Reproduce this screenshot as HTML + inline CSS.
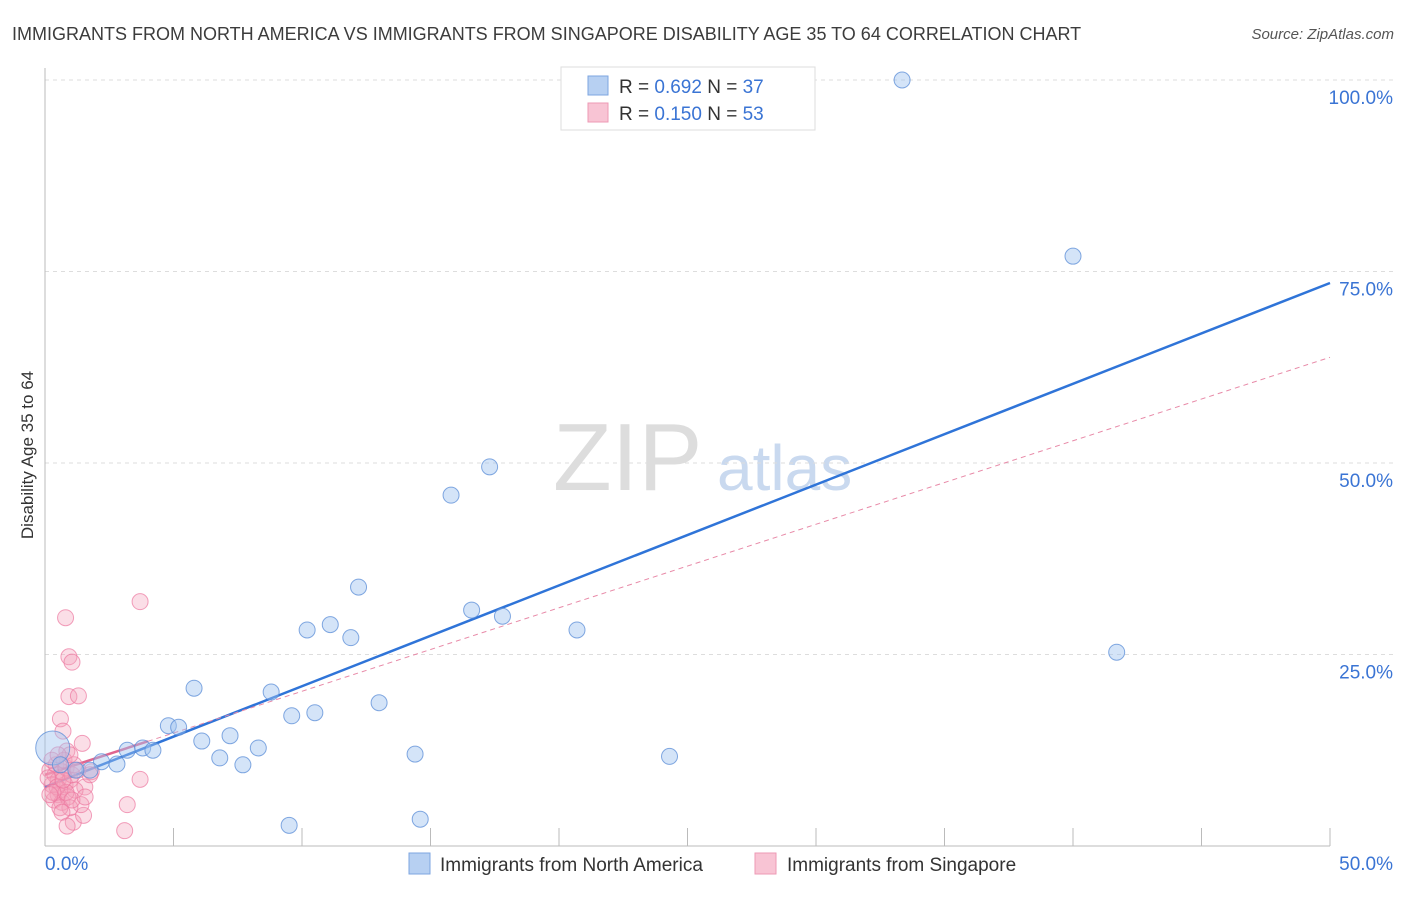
<!DOCTYPE html>
<html><head><meta charset="utf-8"><style>
body{margin:0;background:#fff;font-family:"Liberation Sans",sans-serif;}
svg text{font-family:"Liberation Sans",sans-serif;}
</style></head><body>
<svg id="c" width="1406" height="892">
<text x="12" y="40" font-size="18" fill="#3c3c3c">IMMIGRANTS FROM NORTH AMERICA VS IMMIGRANTS FROM SINGAPORE DISABILITY AGE 35 TO 64 CORRELATION CHART</text>
<text x="1394" y="39" font-size="15" fill="#555" font-style="italic" text-anchor="end">Source: ZipAtlas.com</text>
<text transform="translate(33,455) rotate(-90)" font-size="17" fill="#333" text-anchor="middle">Disability Age 35 to 64</text>
<g><text x="553" y="490" font-size="96" fill="#ddd" font-family="Liberation Serif,serif">ZIP</text><text x="717" y="490" font-size="64" fill="#c9d9ef">atlas</text></g>
<g id="grid"></g><g id="axes"></g><g id="lines"></g><g id="pts"></g>
<g>
<rect x="561" y="67" width="254" height="63" fill="#fff" stroke="#ddd"/>
<rect x="588" y="76" width="20" height="19" fill="#b7d0f2" stroke="#7ea6e0"/>
<rect x="588" y="103" width="20" height="19" fill="#f8c4d4" stroke="#ee9ab5"/>
<text x="619" y="93" font-size="19" fill="#333">R = <tspan fill="#3a74d4">0.692</tspan>   N = <tspan fill="#3a74d4">37</tspan></text>
<text x="619" y="120" font-size="19" fill="#333">R = <tspan fill="#3a74d4">0.150</tspan>   N = <tspan fill="#3a74d4">53</tspan></text>
</g>
<g>
<rect x="409" y="853" width="21" height="21" fill="#b7d0f2" stroke="#7ea6e0"/>
<text x="440" y="871" font-size="19" fill="#333">Immigrants from North America</text>
<rect x="755" y="853" width="21" height="21" fill="#f8c4d4" stroke="#ee9ab5"/>
<text x="787" y="871" font-size="19" fill="#333">Immigrants from Singapore</text>
</g>
</svg>
<script>
const xTicks=[0,5,10,15,20,25,30,35,40,45,50];
const yTicks=[25,50,75,100];
const yTickLabels=["25.0%","50.0%","75.0%","100.0%"];
const blueX=[33.35,40.0,17.3,15.8,12.2,16.6,17.8,20.7,10.2,11.1,11.9,41.7,5.8,8.8,13.0,10.5,9.6,4.8,5.2,7.2,6.1,8.3,3.2,3.8,4.2,14.4,24.3,6.8,7.7,2.2,2.8,1.75,1.2,14.6,9.5,0.3,0.6];
const blueY=[100,77.0,49.5,45.8,33.8,30.8,30.0,28.2,28.2,28.9,27.2,25.3,20.6,20.1,18.7,17.4,17.0,15.7,15.5,14.4,13.7,12.8,12.5,12.8,12.5,12.0,11.7,11.5,10.6,11.0,10.7,9.9,9.9,3.5,2.7,12.8,10.6];
const pinkX=[3.7,0.8,0.93,1.05,0.93,1.3,0.6,0.7,1.45,0.85,3.7,3.2,3.1,1.1,1.5,1.4,1.55,1.8,0.19,0.39,0.51,0.27,0.58,0.78,0.97,0.66,0.43,0.82,1.05,1.17,0.51,0.35,0.66,0.89,0.97,0.58,0.12,0.27,0.74,1.13,1.28,0.47,0.82,0.31,0.70,0.97,0.51,0.19,1.05,0.66,0.86,1.56,1.75];
const pinkY=[31.9,29.8,24.7,24.0,19.5,19.6,16.6,15.0,13.4,12.4,8.7,5.4,2.0,3.1,4.0,5.4,7.7,9.7,9.9,9.3,8.6,8.0,7.3,8.0,8.6,9.7,10.6,10.2,9.3,7.3,6.7,6.0,5.7,6.4,5.0,5.0,8.9,11.2,11.2,10.6,9.9,7.7,7.0,7.0,8.6,11.9,11.9,6.7,6.0,4.4,2.6,6.4,9.3];
const blueTrend=[7.7,73.5];
const pinkTrend=[9.3,63.8];
const NS="http://www.w3.org/2000/svg";
const X=v=>45+v/50*1285, Y=v=>846-v/25*191.5;
function mk(t,a,p){const e=document.createElementNS(NS,t);for(const k in a)e.setAttribute(k,a[k]);document.getElementById(p).appendChild(e);return e;}
yTicks.forEach((v,i)=>{
 const l=mk('line',{x1:45,x2:1393,y1:Y(v),y2:Y(v),stroke:'#ddd','stroke-dasharray':'4,4'},'grid');
 
 
 const t=mk('text',{x:1393,y:Y(v)+24,'font-size':19,fill:'#3a74d4','text-anchor':'end'},'grid');
 t.textContent=yTickLabels[i];
 
 
});
let a=mk('line',{x1:45,x2:45,y1:68,y2:846,stroke:'#bbb'},'axes');


a=mk('line',{x1:45,x2:1330,y1:846,y2:846,stroke:'#bbb'},'axes');


xTicks.forEach(v=>{const l=mk('line',{x1:X(v),x2:X(v),y1:828,y2:846,stroke:'#bbb'},'axes');
 
 });
let t=mk('text',{x:45,y:870,'font-size':19,fill:'#3a74d4'},'axes');t.textContent='0.0%';


t=mk('text',{x:1393,y:870,'font-size':19,fill:'#3a74d4','text-anchor':'end'},'axes');t.textContent='50.0%';


// points
pinkX.forEach((x,i)=>{const c=mk('circle',{cx:X(x),cy:Y(pinkY[i]),r:8,fill:'rgba(244,160,186,0.35)',stroke:'rgba(236,120,160,0.7)'},'pts');
 
 });
blueX.forEach((x,i)=>{const c=mk('circle',{cx:X(x),cy:Y(blueY[i]),r:i==35?17:8,fill:'rgba(160,195,240,0.45)',stroke:'rgba(90,140,215,0.75)'},'pts');
 
 });
let ln=mk('line',{x1:X(0),y1:Y(blueTrend[0]),x2:X(50),y2:Y(blueTrend[1]),stroke:'#2f74d8','stroke-width':2.5},'lines');


const py=x=>pinkTrend[0]+(pinkTrend[1]-pinkTrend[0])*x/50;
ln=mk('line',{x1:X(4),y1:Y(py(4)),x2:X(50),y2:Y(py(50)),stroke:'#e88aa8','stroke-width':1,'stroke-dasharray':'5,4'},'lines');


ln=mk('line',{x1:X(0),y1:Y(py(0)),x2:X(4),y2:Y(py(4)),stroke:'#e06690','stroke-width':2.5},'lines');


</script>
</body></html>
